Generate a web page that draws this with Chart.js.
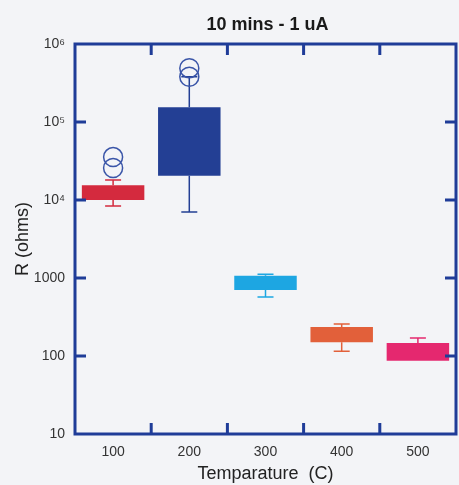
<!DOCTYPE html>
<html>
<head>
<meta charset="utf-8">
<script src="https://cdn.jsdelivr.net/npm/chart.js@4/dist/chart.umd.min.js"></script>
<style>
html,body{margin:0;padding:0;background:#f3f4f7;}
#wrap{width:459px;height:485px;}
</style>
</head>
<body>
<div id="wrap"><canvas id="c" width="459" height="485"></canvas></div>
<script>
const chartTitle = '10 mins - 1 uA';
const categories = ['100', '200', '300', '400', '500'];
const boxLow = [10000, 20400, 700, 150, 87];
const boxHigh = [15500, 155000, 1070, 235, 147];
const whiskerLow = [8350, 7000, 570, 115, 87];
const whiskerHigh = [18000, 380000, 1120, 257, 170];
const outlierCategory = ['100', '100', '200', '200'];
const outlierValues = [35500, 25700, 490000, 380000];
const yTickValues = [10, 100, 1000, 10000, 100000, 1000000];
const yTickLabels = ['10', '100', '1000', '10\u2074', '10\u2075', '10\u2076'];
const boxColors = ['#d42a3e', '#233f94', '#1da6e2', '#e2603a', '#e5286f'];
const frameColor = '#1f3c98';

const bgPlugin = {
  id: 'bg',
  beforeDraw(chart) {
    const ctx = chart.ctx;
    ctx.save();
    ctx.fillStyle = '#f3f4f7';
    ctx.fillRect(0, 0, chart.width, chart.height);
    ctx.restore();
  }
};

const titlePlugin = {
  id: 'areaTitle',
  afterDraw(chart) {
    const ctx = chart.ctx;
    const a = chart.chartArea;
    ctx.save();
    ctx.fillStyle = '#1a1a1a';
    ctx.font = 'bold 18px "Liberation Sans", Arial, sans-serif';
    ctx.textAlign = 'center';
    ctx.textBaseline = 'middle';
    ctx.fillText(chartTitle, (a.left + a.right) / 2 + 2, 25);
    ctx.restore();
  }
};

const whiskerPlugin = {
  id: 'whiskers',
  beforeDatasetsDraw(chart) {
    const ctx = chart.ctx;
    const xs = chart.scales.x, ys = chart.scales.y;
    ctx.save();
    ctx.lineWidth = 1.5;
    categories.forEach((c, i) => {
      const x = xs.getPixelForValue(i);
      ctx.strokeStyle = boxColors[i];
      const pairs = [[boxHigh[i], whiskerHigh[i]], [boxLow[i], whiskerLow[i]]];
      pairs.forEach(([from, to]) => {
        if (from === to) return;
        const y1 = ys.getPixelForValue(from), y2 = ys.getPixelForValue(to);
        ctx.beginPath();
        ctx.moveTo(x, y1); ctx.lineTo(x, y2);
        ctx.moveTo(x - 8, y2); ctx.lineTo(x + 8, y2);
        ctx.stroke();
      });
    });
    ctx.restore();
  }
};

const framePlugin = {
  id: 'frame',
  afterDraw(chart) {
    const ctx = chart.ctx;
    const a = chart.chartArea;
    const xs = chart.scales.x, ys = chart.scales.y;
    ctx.save();
    ctx.strokeStyle = frameColor;
    ctx.lineWidth = 3;
    ctx.strokeRect(a.left, a.top, a.right - a.left, a.bottom - a.top);
    ctx.beginPath();
    yTickValues.forEach(v => {
      const y = ys.getPixelForValue(v);
      if (Math.abs(y - a.top) < 2 || Math.abs(y - a.bottom) < 2) return;
      ctx.moveTo(a.left, y); ctx.lineTo(a.left + 11, y);
      ctx.moveTo(a.right, y); ctx.lineTo(a.right - 11, y);
    });
    for (let i = 0; i < categories.length - 1; i++) {
      const x = (xs.getPixelForValue(i) + xs.getPixelForValue(i + 1)) / 2;
      ctx.moveTo(x, a.bottom); ctx.lineTo(x, a.bottom - 11);
      ctx.moveTo(x, a.top); ctx.lineTo(x, a.top + 11);
    }
    ctx.stroke();
    ctx.restore();
  }
};

new Chart(document.getElementById('c'), {
  type: 'bar',
  data: {
    labels: categories,
    datasets: [
      {
        type: 'scatter',
        data: outlierValues.map((v, i) => ({ x: outlierCategory[i], y: v })),
        pointRadius: 9.5,
        pointStyle: 'circle',
        borderColor: '#3a55a8',
        backgroundColor: 'rgba(0,0,0,0)',
        borderWidth: 1.5,
        clip: false,
        order: 0
      },
      {
        type: 'bar',
        data: boxLow.map((v, i) => [v, boxHigh[i]]),
        backgroundColor: boxColors,
        borderColor: boxColors,
        borderWidth: 0,
        borderSkipped: false,
        barPercentage: 0.82,
        categoryPercentage: 1.0,
        order: 1
      }
    ]
  },
  options: {
    responsive: false,
    animation: false,
    devicePixelRatio: 1,
    layout: { autoPadding: false, padding: { top: 44, right: 3, left: 0, bottom: 0 } },
    plugins: {
      legend: { display: false },
      tooltip: { enabled: false },
      title: { display: false }
    },
    scales: {
      x: {
        type: 'category',
        offset: true,
        grid: { display: false, drawTicks: false },
        border: { display: false },
        ticks: {
          color: '#333',
          padding: 10,
          font: { family: 'Liberation Sans, Arial, sans-serif', size: 14 }
        },
        title: {
          display: true,
          text: 'Temparature  (C)',
          color: '#222',
          font: { family: 'Liberation Sans, Arial, sans-serif', size: 18 },
          padding: { top: 0, bottom: 0 }
        },
        afterFit(scale) {
          scale.height = 51;
          scale.paddingLeft = 0;
          scale.paddingRight = 0;
        }
      },
      y: {
        type: 'logarithmic',
        min: 10,
        max: 1000000,
        grid: { display: false, drawTicks: false },
        border: { display: false },
        afterBuildTicks(scale) {
          scale.ticks = yTickValues.map(v => ({ value: v }));
        },
        ticks: {
          color: '#333',
          padding: 10,
          font: { family: 'Liberation Sans, Arial, sans-serif', size: 14 },
          callback(v) {
            const k = yTickValues.indexOf(v);
            return k >= 0 ? yTickLabels[k] : '';
          }
        },
        title: {
          display: true,
          text: 'R (ohms)',
          color: '#222',
          font: { family: 'Liberation Sans, Arial, sans-serif', size: 18 },
          padding: { top: 12, bottom: 0 }
        },
        afterFit(scale) {
          scale.width = 75;
          scale.paddingTop = 0;
          scale.paddingBottom = 0;
        }
      }
    }
  },
  plugins: [bgPlugin, whiskerPlugin, framePlugin, titlePlugin]
});
</script>
</body>
</html>
